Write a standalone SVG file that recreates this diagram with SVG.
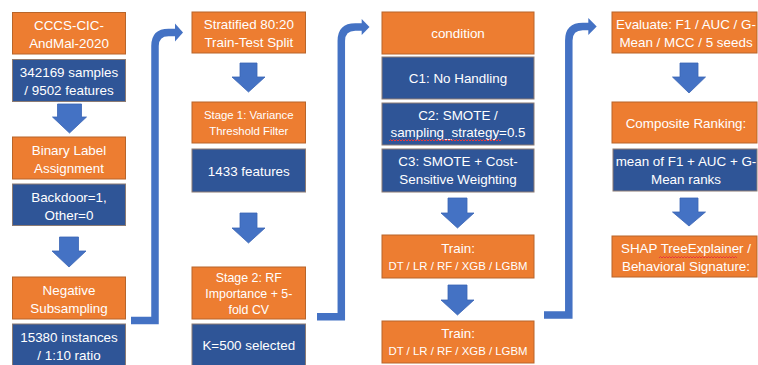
<svg xmlns="http://www.w3.org/2000/svg" width="758" height="365" viewBox="0 0 758 365">
<style>
.o{fill:#ED7D31;stroke:#B8652A;stroke-width:1}
.b{fill:#2F5597;stroke:#8C7B73;stroke-width:1}
.t{fill:#fff;font-family:"Liberation Sans",Arial,sans-serif;font-size:13.4px;text-anchor:middle}
.s{font-size:11.4px}
.m{font-size:12.4px}
.e{fill:none;stroke:#4472C4;stroke-width:7.5;stroke-linejoin:miter}
.h{fill:#4472C4}
.d{fill:#4472C4;stroke:#3A65B5;stroke-width:0.8}
.q{fill:none;stroke:#E8383D;stroke-width:1}
</style>
<rect width="758" height="365" fill="#fff"/>
<g id="connectors">
<path class="e" d="M131,320.5 H155 V46 Q155,32.5 168.5,32.5 H176"/>
<polygon class="h" points="175,23.5 183,32.5 175,41.5"/>
<path class="e" d="M317,316.7 H341.3 V41 Q341.3,27 355.3,27 H362.5"/>
<polygon class="h" points="361.7,19 369.5,27 361.7,35"/>
<path class="e" d="M544,315 H568.8 V40.5 Q568.8,26.5 582.8,26.5 H589"/>
<polygon class="h" points="588.3,18 596.7,26.5 588.3,35"/>
<polygon class="d" points="57.5,104 81.5,104 81.5,117 86.5,117 69.5,133 52.5,117 57.5,117"/>
<polygon class="d" points="59.5,237 78.5,237 78.5,251 86,251 69,267 52,251 59.5,251"/>
<polygon class="d" points="240,63 257,63 257,77 265,77 248.5,92 232,77 240,77"/>
<polygon class="d" points="240,213 257,213 257,228 265,228 248.5,243 232,228 240,228"/>
<polygon class="d" points="448,198 467,198 467,213 474,213 457.5,228 441,213 448,213"/>
<polygon class="d" points="448,285 467,285 467,300 474,300 457.5,315 441,300 448,300"/>
<polygon class="d" points="680,63 698,63 698,77 705.5,77 689,93 672.5,77 680,77"/>
<polygon class="d" points="680,198 698,198 698,212 705.5,212 689,226 672.5,212 680,212"/>
</g>
<g id="n1"><rect class="o" x="12.5" y="12.5" width="113" height="41.5"/><text class="t" x="69" y="30">CCCS-CIC-</text><text class="t" x="69" y="48">AndMal-2020</text></g>
<g id="n2"><rect class="b" x="12.5" y="59.5" width="113" height="42"/><text class="t" x="69" y="77">342169 samples</text><text class="t" x="69" y="95">/ 9502 features</text></g>
<g id="n3"><rect class="o" x="12.5" y="137" width="113" height="42"/><text class="t" x="69" y="154.5">Binary Label</text><text class="t" x="69" y="172.5">Assignment</text></g>
<g id="n4"><rect class="b" x="12.5" y="184" width="113" height="41.5"/><text class="t" x="69" y="201.5">Backdoor=1,</text><text class="t" x="69" y="219.5">Other=0</text></g>
<g id="n5"><rect class="o" x="12.5" y="277" width="113" height="42"/><text class="t" x="69" y="294.5">Negative</text><text class="t" x="69" y="312.5">Subsampling</text></g>
<g id="n6"><rect class="b" x="12.5" y="324" width="113" height="42"/><text class="t" x="69" y="341.5">15380 instances</text><text class="t" x="69" y="359.5">/ 1:10 ratio</text></g>
<g id="m1"><rect class="o" x="192" y="12" width="113.5" height="41"/><text class="t" x="248.8" y="29">Stratified 80:20</text><text class="t" x="248.8" y="47">Train-Test Split</text></g>
<g id="m2"><rect class="o" x="192" y="102" width="113.5" height="41"/><text class="t s" x="248.8" y="119">Stage 1: Variance</text><text class="t s" x="248.8" y="135">Threshold Filter</text></g>
<g id="m3"><rect class="b" x="192" y="149" width="113.5" height="43"/><text class="t" x="248.8" y="175.5">1433 features</text></g>
<g id="m4"><rect class="o" x="192" y="267" width="113.5" height="52"/><text class="t m" x="248.8" y="281.5">Stage 2: RF</text><text class="t m" x="248.8" y="297.5">Importance + 5-</text><text class="t m" x="248.8" y="313.5">fold CV</text></g>
<g id="m5"><rect class="b" x="192" y="324" width="113.5" height="42"/><text class="t" x="248.8" y="350">K=500 selected</text></g>
<g id="c0"><rect class="o" x="382" y="12" width="152" height="42"/><text class="t" x="458" y="37.5">condition</text></g>
<g id="c1"><rect class="b" x="382" y="57" width="152" height="42"/><text class="t" x="458" y="82.5">C1: No Handling</text></g>
<g id="c2"><rect class="b" x="382" y="103" width="152" height="42"/><text class="t" x="458" y="120">C2: SMOTE /</text><text class="t" x="458" y="137">sampling_strategy=0.5</text><path class="q" d="M389,141 l1.5,-1.5 l1.5,1.5 l1.5,-1.5 l1.5,1.5 l1.5,-1.5 l1.5,1.5 l1.5,-1.5 l1.5,1.5 l1.5,-1.5 l1.5,1.5 l1.5,-1.5 l1.5,1.5 l1.5,-1.5 l1.5,1.5 l1.5,-1.5 l1.5,1.5 l1.5,-1.5 l1.5,1.5 l1.5,-1.5 l1.5,1.5 l1.5,-1.5 l1.5,1.5 l1.5,-1.5 l1.5,1.5 l1.5,-1.5 l1.5,1.5 l1.5,-1.5 l1.5,1.5 l1.5,-1.5 l1.5,1.5 l1.5,-1.5 l1.5,1.5 l1.5,-1.5 l1.5,1.5 l1.5,-1.5 l1.5,1.5 l1.5,-1.5 l1.5,1.5 l1.5,-1.5 l1.5,1.5 l1.5,-1.5 l1.5,1.5 l1.5,-1.5 l1.5,1.5 l1.5,-1.5 l1.5,1.5 l1.5,-1.5 l1.5,1.5 l1.5,-1.5 l1.5,1.5 l1.5,-1.5 l1.5,1.5 l1.5,-1.5 l1.5,1.5 l1.5,-1.5 l1.5,1.5 l1.5,-1.5 l1.5,1.5 l1.5,-1.5 l1.5,1.5 l1.5,-1.5 l1.5,1.5 l1.5,-1.5 l1.5,1.5 l1.5,-1.5 l1.5,1.5 l1.5,-1.5 l1.5,1.5 l1.5,-1.5 l1.5,1.5 l1.5,-1.5 l1.5,1.5 l1.5,-1.5 l1.5,1.5 l1.5,-1.5"/></g>
<g id="c3"><rect class="b" x="382" y="149" width="152" height="43"/><text class="t" x="458" y="166">C3: SMOTE + Cost-</text><text class="t" x="458" y="184">Sensitive Weighting</text></g>
<g id="t1"><rect class="o" x="382" y="235" width="152" height="43"/><text class="t" x="458" y="253">Train:</text><text class="t s" x="458" y="270">DT / LR / RF / XGB / LGBM</text></g>
<g id="t2"><rect class="o" x="382" y="321" width="152" height="42"/><text class="t" x="458" y="338">Train:</text><text class="t s" x="458" y="355">DT / LR / RF / XGB / LGBM</text></g>
<g id="e1"><rect class="o" x="612" y="12" width="145" height="41"/><text class="t" x="686" y="29">Evaluate: F1 / AUC / G-</text><text class="t" x="686" y="47">Mean / MCC / 5 seeds</text></g>
<g id="e2"><rect class="o" x="612" y="102" width="145" height="41"/><text class="t" x="686" y="128">Composite Ranking:</text></g>
<g id="e3"><rect class="b" x="613" y="149" width="144" height="42"/><text class="t" x="686" y="166">mean of F1 + AUC + G-</text><text class="t" x="686" y="184">Mean ranks</text></g>
<g id="e4"><rect class="o" x="612" y="236" width="145" height="41"/><text class="t" x="686" y="253">SHAP TreeExplainer /</text><text class="t" x="686" y="271">Behavioral Signature:</text><path class="q" d="M659,258 l1.5,-1.5 l1.5,1.5 l1.5,-1.5 l1.5,1.5 l1.5,-1.5 l1.5,1.5 l1.5,-1.5 l1.5,1.5 l1.5,-1.5 l1.5,1.5 l1.5,-1.5 l1.5,1.5 l1.5,-1.5 l1.5,1.5 l1.5,-1.5 l1.5,1.5 l1.5,-1.5 l1.5,1.5 l1.5,-1.5 l1.5,1.5 l1.5,-1.5 l1.5,1.5 l1.5,-1.5 l1.5,1.5 l1.5,-1.5 l1.5,1.5 l1.5,-1.5 l1.5,1.5 l1.5,-1.5 l1.5,1.5 l1.5,-1.5 l1.5,1.5 l1.5,-1.5 l1.5,1.5 l1.5,-1.5 l1.5,1.5 l1.5,-1.5 l1.5,1.5 l1.5,-1.5 l1.5,1.5 l1.5,-1.5 l1.5,1.5 l1.5,-1.5 l1.5,1.5 l1.5,-1.5 l1.5,1.5 l1.5,-1.5 l1.5,1.5 l1.5,-1.5 l1.5,1.5 l1.5,-1.5 l1.5,1.5"/></g>
</svg>
